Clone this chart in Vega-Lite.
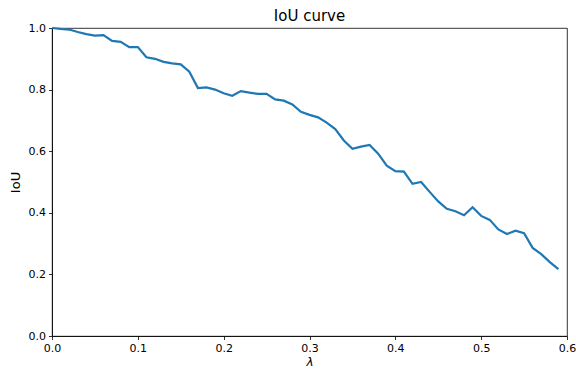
{
  "$schema": "https://vega.github.io/schema/vega-lite/v6.json",
  "width": 515,
  "height": 308,
  "autosize": {"type": "none"},
  "padding": {"left": 52, "top": 28, "right": 9, "bottom": 33},
  "background": "white",
  "title": {"text": "IoU curve", "font": "DejaVu Sans", "fontSize": 15, "fontWeight": "normal", "color": "black", "offset": -2, "anchor": "middle"},
  "config": {
    "view": {"stroke": "black", "strokeWidth": 0.8},
    "axis": {"grid": false, "labelFlush": false, "labelOverlap": false, "domainColor": "black", "domainWidth": 0.8, "tickColor": "black", "tickWidth": 0.8, "tickSize": 3.5, "labelFont": "DejaVu Sans", "labelFontSize": 11, "labelColor": "black", "labelPadding": 3, "titleFont": "DejaVu Sans", "titleFontSize": 13, "titleFontWeight": "normal", "titleColor": "black"}
  },
  "data": {"values": [
    {"lambda": 0.00, "iou": 1.0},
    {"lambda": 0.01, "iou": 0.997},
    {"lambda": 0.02, "iou": 0.995},
    {"lambda": 0.03, "iou": 0.987},
    {"lambda": 0.04, "iou": 0.980},
    {"lambda": 0.05, "iou": 0.975},
    {"lambda": 0.06, "iou": 0.977},
    {"lambda": 0.07, "iou": 0.958},
    {"lambda": 0.08, "iou": 0.955},
    {"lambda": 0.09, "iou": 0.938},
    {"lambda": 0.10, "iou": 0.938},
    {"lambda": 0.11, "iou": 0.905},
    {"lambda": 0.12, "iou": 0.900},
    {"lambda": 0.13, "iou": 0.890},
    {"lambda": 0.14, "iou": 0.885},
    {"lambda": 0.15, "iou": 0.882},
    {"lambda": 0.16, "iou": 0.858},
    {"lambda": 0.17, "iou": 0.805},
    {"lambda": 0.18, "iou": 0.807},
    {"lambda": 0.19, "iou": 0.800},
    {"lambda": 0.20, "iou": 0.788},
    {"lambda": 0.21, "iou": 0.780},
    {"lambda": 0.22, "iou": 0.795},
    {"lambda": 0.23, "iou": 0.790},
    {"lambda": 0.24, "iou": 0.786},
    {"lambda": 0.25, "iou": 0.786},
    {"lambda": 0.26, "iou": 0.768},
    {"lambda": 0.27, "iou": 0.764},
    {"lambda": 0.28, "iou": 0.752},
    {"lambda": 0.29, "iou": 0.728},
    {"lambda": 0.30, "iou": 0.718},
    {"lambda": 0.31, "iou": 0.710},
    {"lambda": 0.32, "iou": 0.693},
    {"lambda": 0.33, "iou": 0.672},
    {"lambda": 0.34, "iou": 0.635},
    {"lambda": 0.35, "iou": 0.608},
    {"lambda": 0.36, "iou": 0.615},
    {"lambda": 0.37, "iou": 0.620},
    {"lambda": 0.38, "iou": 0.592},
    {"lambda": 0.39, "iou": 0.553},
    {"lambda": 0.40, "iou": 0.535},
    {"lambda": 0.41, "iou": 0.534},
    {"lambda": 0.42, "iou": 0.494},
    {"lambda": 0.43, "iou": 0.500},
    {"lambda": 0.44, "iou": 0.468},
    {"lambda": 0.45, "iou": 0.437},
    {"lambda": 0.46, "iou": 0.413},
    {"lambda": 0.47, "iou": 0.405},
    {"lambda": 0.48, "iou": 0.392},
    {"lambda": 0.49, "iou": 0.418},
    {"lambda": 0.50, "iou": 0.390},
    {"lambda": 0.51, "iou": 0.377},
    {"lambda": 0.52, "iou": 0.346},
    {"lambda": 0.53, "iou": 0.331},
    {"lambda": 0.54, "iou": 0.342},
    {"lambda": 0.55, "iou": 0.334},
    {"lambda": 0.56, "iou": 0.286},
    {"lambda": 0.57, "iou": 0.266},
    {"lambda": 0.58, "iou": 0.240},
    {"lambda": 0.59, "iou": 0.217}
  ]},
  "mark": {"type": "line", "color": "#1f77b4", "strokeWidth": 2.2},
  "encoding": {
    "x": {"field": "lambda", "type": "quantitative", "scale": {"domain": [0, 0.6], "nice": false, "zero": false},
      "axis": {"title": "λ", "titleFontStyle": "italic", "titleFontSize": 12, "titlePadding": 3, "values": [0, 0.1, 0.2, 0.3, 0.4, 0.5, 0.6], "format": ".1f"}},
    "y": {"field": "iou", "type": "quantitative", "scale": {"domain": [0, 1], "nice": false},
      "axis": {"title": "IoU", "titlePadding": 6, "values": [0, 0.2, 0.4, 0.6, 0.8, 1.0], "format": ".1f"}}
  }
}
